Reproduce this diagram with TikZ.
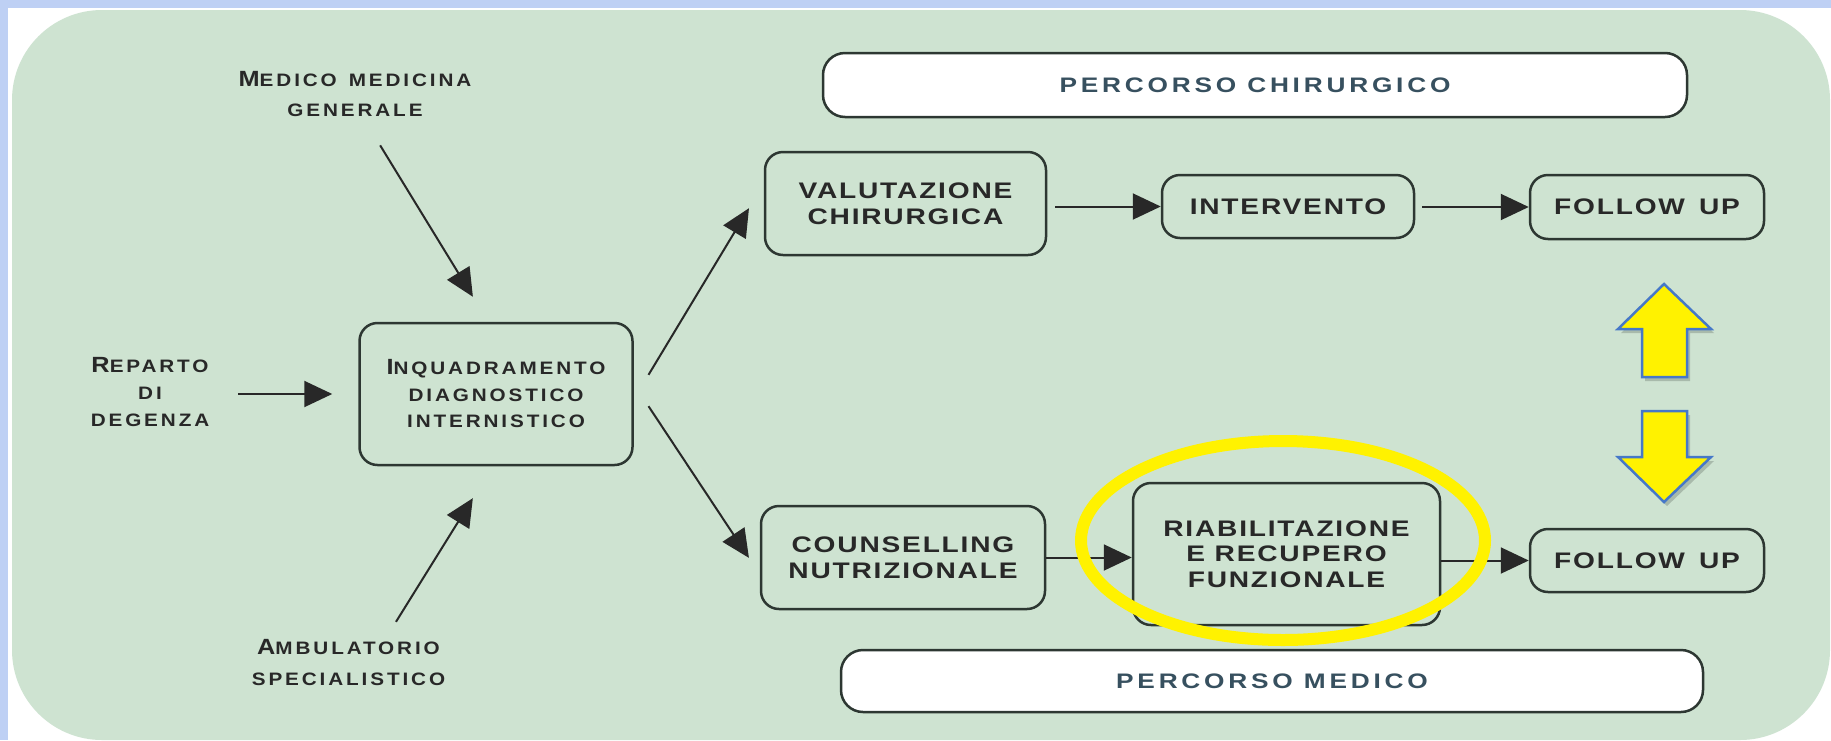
\documentclass[tikz,border=0pt]{standalone}
\usepackage{fontspec}
\usetikzlibrary{arrows.meta,calc}
\setmainfont{Liberation Sans}
\newfontfamily\labfont[FakeStretch=1.15,LetterSpace=16]{Liberation Sans}
\newfontfamily\boxfont[FakeStretch=1.25,LetterSpace=8]{Liberation Sans}
\newfontfamily\pathfont[FakeStretch=1.25,LetterSpace=18]{Liberation Sans}
\definecolor{frameblue}{RGB}{190,208,244}
\definecolor{panel}{RGB}{206,227,209}
\definecolor{edge}{RGB}{45,55,50}
\definecolor{ink}{RGB}{40,40,40}
\definecolor{pathink}{RGB}{55,80,95}
\definecolor{arrowblue}{RGB}{70,120,200}
\newcommand\BC[1]{{\fontsize{22}{22}\selectfont #1}}
\begin{document}
\begin{tikzpicture}[x=1pt,y=-1pt,
  lab/.style={font=\labfont\bfseries\fontsize{18}{28}\selectfont, text=ink, align=center, inner sep=0pt},
  box/.style={draw=edge, line width=2.5pt, rounded corners=18pt, inner sep=0pt, align=center, text=ink},
  fbox/.style={box, font=\boxfont\bfseries\fontsize{22.5}{25.5}\selectfont},
  ibox/.style={box, font=\labfont\bfseries\fontsize{18}{26.5}\selectfont},
  pbox/.style={box, rounded corners=22pt, fill=white, font=\pathfont\bfseries\fontsize{21}{22}\selectfont, text=pathink},
  arr/.style={draw=ink, line width=2pt, -{Triangle[length=28pt,width=26pt]}},
  yarrow/.style={fill=yellow, draw=arrowblue, line width=2.5pt, line join=miter},
  yshadow/.style={fill=black, opacity=0.18}
]
\useasboundingbox (0,0) rectangle (1831,740);
% background
\fill[white] (0,0) rectangle (1831,740);
\fill[frameblue] (0,0) rectangle (1831,8);
\fill[frameblue] (0,0) rectangle (8,740);
\fill[panel, rounded corners=90pt] (12,10) rectangle (1830,740);

% labels
\node[lab] (med) at (355,94.5) {\BC{M}EDICO\hspace{12pt}MEDICINA\\[2pt]GENERALE};
\node[lab, minimum width=130pt] (rep) at (150,392) {\BC{R}EPARTO\\[-1pt]DI\\[-1pt]DEGENZA};
\node[lab] (amb) at (348.5,663) {\BC{A}MBULATORIO\\[3pt]SPECIALISTICO};

% boxes
\node[ibox, minimum width=273pt, minimum height=142pt] (inq) at (496,394) {\BC{I}NQUADRAMENTO\\DIAGNOSTICO\\INTERNISTICO};
\node[fbox, minimum width=281pt, minimum height=103pt] (val) at (905.5,203.5) {VALUTAZIONE\\CHIRURGICA};
\node[fbox, minimum width=252pt, minimum height=63pt] (int) at (1288,206.5) {INTERVENTO};
\node[fbox, minimum width=234pt, minimum height=64pt] (fu1) at (1647,207) {FOLLOW\hspace{14pt}UP};
\node[fbox, minimum width=284pt, minimum height=103pt] (cou) at (903,557.5) {COUNSELLING\\NUTRIZIONALE};
\node[fbox, minimum width=307pt, minimum height=142pt] (ria) at (1286.5,554) {RIABILITAZIONE\\E RECUPERO\\FUNZIONALE};
\node[fbox, minimum width=234pt, minimum height=63pt] (fu2) at (1647,560.5) {FOLLOW\hspace{14pt}UP};
\node[pbox, minimum width=864pt, minimum height=64pt] (pch) at (1255,85) {PERCORSO CHIRURGICO};
\node[pbox, minimum width=862pt, minimum height=62pt] (pme) at (1272,681) {PERCORSO MEDICO};

% connectors
\draw[arr, shorten <=23pt, shorten >=26pt] (inq.west -| rep.east) -- (inq.west);
\draw[arr, shorten <=32.8pt, shorten >=29.3pt] ([xshift=8pt]med.south) -- ([xshift=-7.8pt]inq.north);
\draw[arr, shorten <=21pt, shorten >=37.6pt] ([xshift=36.4pt]amb.north) -- ([xshift=-3.3pt]inq.south);
\draw[arr, shorten <=28.6pt, shorten >=28.6pt] ([yshift=-5.3pt]inq.east) -- ([yshift=19.8pt]val.west);
\draw[arr, shorten <=26.7pt, shorten >=19.6pt] ([yshift=10.1pt]inq.east) -- ([yshift=-16.7pt]cou.west);
\draw[arr, shorten <=8pt] (val.east |- int.west) -- (int.west);
\draw[arr, shorten <=7pt] (int.east |- fu1.west) -- (fu1.west);
\draw[arr] (cou.east) -- (cou.east -| ria.west);
\draw[arr] (ria.east |- fu2.west) -- (fu2.west);

% yellow arrows
\fill[yshadow] ([shift={(3,4)}]1664,284) -- ++(47,45) -- ++(-24,0) -- ++(0,48) -- ++(-45,0) -- ++(0,-48) -- ++(-24,0) -- cycle;
\draw[yarrow] (1664,284) -- (1711,329) -- (1687,329) -- (1687,377) -- (1642,377) -- (1642,329) -- (1618,329) -- cycle;
\fill[yshadow] ([shift={(3,4)}]1642,411) -- ++(45,0) -- ++(0,46) -- ++(24,0) -- ++(-47,45) -- ++(-46,-45) -- ++(24,0) -- cycle;
\draw[yarrow] (1642,411) -- (1687,411) -- (1687,457) -- (1711,457) -- (1664,502) -- (1618,457) -- (1642,457) -- cycle;

% highlight
\draw[yellow, line width=12pt] (1283,540.5) ellipse [x radius=202, y radius=99.5];
\end{tikzpicture}
\end{document}
